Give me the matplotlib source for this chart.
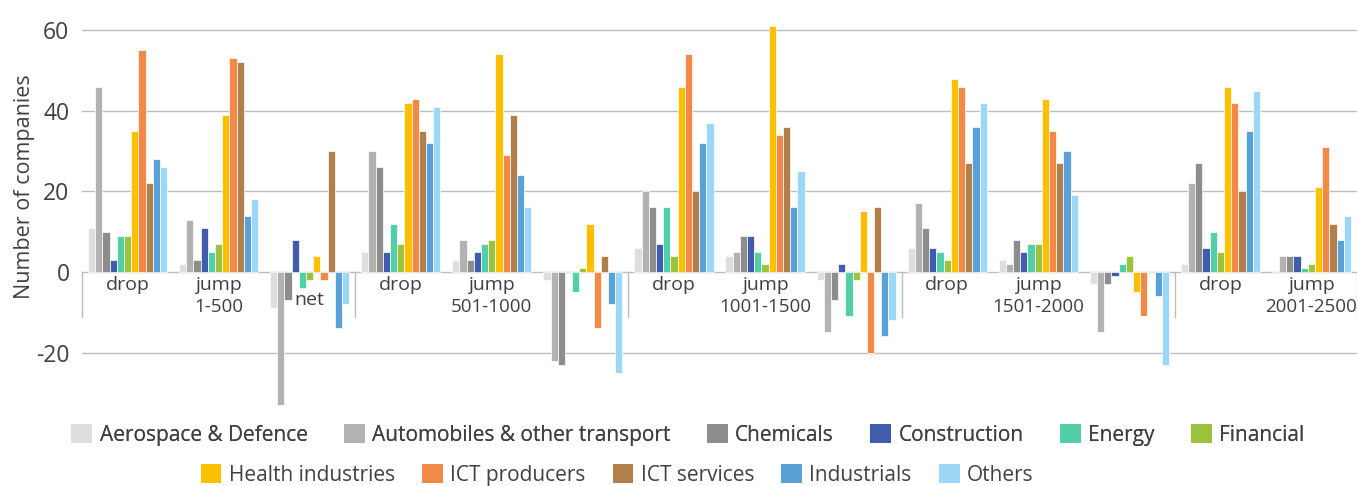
import numpy as np
import matplotlib
matplotlib.use("Agg")
from matplotlib import pyplot as plt
from matplotlib.patches import Patch

plt.rcParams['font.family'] = ['Open Sans', 'DejaVu Sans']
plt.rcParams['axes.unicode_minus'] = False

sectors = ['Aerospace & Defence', 'Automobiles & other transport', 'Chemicals',
           'Construction', 'Energy', 'Financial', 'Health industries',
           'ICT producers', 'ICT services', 'Industrials', 'Others']
colors = ['#dedede', '#b2b2b2', '#8d8d8d', '#3f5dab', '#52cea8', '#9bc33d',
          '#fcc000', '#f28947', '#b07f4b', '#5aa1d8', '#9cd7f8']

groups = ['1-500', '501-1000', '1001-1500', '1501-2000', '2001-2500']
cat_labels = ['drop', 'jump', 'net', 'drop', 'jump', '', 'drop', 'jump', '',
              'drop', 'jump', '', 'drop', 'jump']

# one list per sector, 14 categories (drop/jump/net per rank group, last group has no net)
aerospace = [11, 2, -9, 5, 3, -2, 6, 4, -2, 6, 3, -3, 2, 0]
automobiles = [46, 13, -33, 30, 8, -22, 20, 5, -15, 17, 2, -15, 22, 4]
chemicals = [10, 3, -7, 26, 3, -23, 16, 9, -7, 11, 8, -3, 27, 4]
construction = [3, 11, 8, 5, 5, 0, 7, 9, 2, 6, 5, -1, 6, 4]
energy = [9, 5, -4, 12, 7, -5, 16, 5, -11, 5, 7, 2, 10, 1]
financial = [9, 7, -2, 7, 8, 1, 4, 2, -2, 3, 7, 4, 5, 2]
health = [35, 39, 4, 42, 54, 12, 46, 61, 15, 48, 43, -5, 46, 21]
ict_prod = [55, 53, -2, 43, 29, -14, 54, 34, -20, 46, 35, -11, 42, 31]
ict_serv = [22, 52, 30, 35, 39, 4, 20, 36, 16, 27, 27, 0, 20, 12]
industrials = [28, 14, -14, 32, 24, -8, 32, 16, -16, 36, 30, -6, 35, 8]
others = [26, 18, -8, 41, 16, -25, 37, 25, -12, 42, 19, -23, 45, 14]

series = [aerospace, automobiles, chemicals, construction, energy, financial,
          health, ict_prod, ict_serv, industrials, others]

txt = '#404040'
fig = plt.figure(figsize=(13.57, 4.86), dpi=100)
ax = fig.add_axes([82/1357, 1 - 413/486, 1 - 82/1357, 403/486])

x = np.arange(len(cat_labels))
w = 0.079
for j, vals in enumerate(series):
    ax.bar(x + (j - 5) * w, vals, width=w, color=colors[j],
           edgecolor='white', linewidth=0.5, zorder=3)

ax.set_xlim(-0.5, len(cat_labels) - 0.5)
ax.set_ylim(-35, 65)
ax.set_yticks([-20, 0, 20, 40, 60])
ax.tick_params(axis='y', length=0, pad=9, labelsize=16.5, labelcolor=txt)
ax.set_xticks([])
ax.grid(axis='y', color='#bdbdbd', linewidth=1, zorder=0)
for s in ax.spines.values():
    s.set_visible(False)
ax.set_ylabel('Number of companies', fontsize=15.5, color=txt)
ax.yaxis.set_label_coords(-0.037, 0.561)

# category labels
for i, lab in enumerate(cat_labels):
    if lab == 'net':
        ax.text(i, -7, lab, ha='center', va='center', fontsize=14, color=txt)
    elif lab:
        ax.text(i, -3.2, lab, ha='center', va='center', fontsize=14, color=txt)
# rank group labels under the "jump" column
for g, name in enumerate(groups):
    ax.text(3 * g + 1, -8.7, name, ha='center', va='center', fontsize=13.5, color=txt)

# group separators
for b in [-0.5, 2.5, 5.5, 8.5, 11.5, 13.5]:
    ax.plot([b, b], [0, -11.2], color='#bdbdbd', linewidth=1, clip_on=False, zorder=2)

handles = [Patch(facecolor=c) for c in colors]
leg1 = fig.legend(handles[:6], sectors[:6], loc='center', ncol=6,
                  bbox_to_anchor=(688/1357, 1 - 435/486), frameon=False,
                  fontsize=15, handlelength=1.0, handleheight=1.0,
                  handletextpad=0.35, columnspacing=1.75, labelcolor=txt)
leg2 = fig.legend(handles[6:], sectors[6:], loc='center', ncol=5,
                  bbox_to_anchor=(617/1357, 1 - 475/486), frameon=False,
                  fontsize=15, handlelength=1.0, handleheight=1.0,
                  handletextpad=0.35, columnspacing=1.3, labelcolor=txt)
fig.add_artist(leg1)

fig.savefig('out.png', dpi=100)
